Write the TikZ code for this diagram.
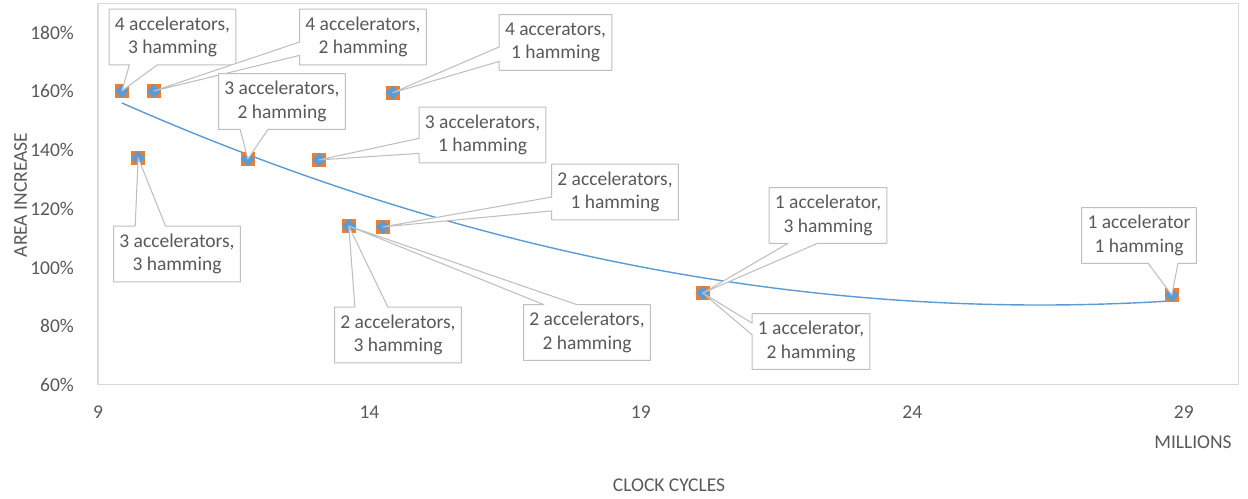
\documentclass[tikz,border=0pt]{standalone}
\usepackage{fontspec}
\setmainfont{Carlito}
\usetikzlibrary{calc}

\definecolor{txtgray}{HTML}{595959}
\definecolor{framegray}{HTML}{D9D9D9}
\definecolor{linegray}{HTML}{BFBFBF}
\definecolor{markorange}{HTML}{ED7D31}
\definecolor{markblue}{HTML}{5B9BD5}

\pgfdeclarelayer{labels}
\pgfsetlayers{main,labels}

% callout outline, tail leaving the box on one side (box, target, f1, f2)
\newcommand{\tailbottom}[4]{\draw[callout] (#1.south west) -- ($(#1.south west)!#3!(#1.south east)$) -- (#2.center) -- ($(#1.south west)!#4!(#1.south east)$) -- (#1.south east) -- (#1.north east) -- (#1.north west) -- cycle;}
\newcommand{\tailtop}[4]{\draw[callout] (#1.north west) -- ($(#1.north west)!#3!(#1.north east)$) -- (#2.center) -- ($(#1.north west)!#4!(#1.north east)$) -- (#1.north east) -- (#1.south east) -- (#1.south west) -- cycle;}
\newcommand{\tailleft}[4]{\draw[callout] (#1.north west) -- ($(#1.north west)!#3!(#1.south west)$) -- (#2.center) -- ($(#1.north west)!#4!(#1.south west)$) -- (#1.south west) -- (#1.south east) -- (#1.north east) -- cycle;}

\begin{document}
\begin{tikzpicture}[x=0.02cm,y=-0.02cm,
  lbl/.style={text=txtgray,font=\fontsize{11.1}{13.3}\selectfont},
  callbox/.style={lbl,align=center,minimum height=1.1cm,inner xsep=3.1pt,inner ysep=0pt},
  callout/.style={draw=linegray,fill=white,line width=0.6pt,line join=round},
  pt/.style={rectangle,minimum size=0.28cm,inner sep=0pt,fill=markorange,
    path picture={\fill[markblue] (path picture bounding box.north) -- (path picture bounding box.east)
      -- (path picture bounding box.south) -- (path picture bounding box.west) -- cycle;}}]
\useasboundingbox (0,0) rectangle (1248,498);

% plot area, X in millions of cycles, Y in percent
\begin{scope}[shift={(-7.814cm,-11.226cm)},x=1.086cm,y=0.05876cm]
\draw[framegray,line width=0.6pt] (9,60) rectangle (30,190);
\foreach \v in {60,80,...,180} \node[lbl,anchor=east] (yt\v) at (8.67,\v) {\v\%};
\foreach \v in {9,14,...,29} \node[lbl] (xt\v) at (\v,50.8) {\v};
% poly trend line
\draw[markblue,line width=0.8pt] plot[domain=9.44:28.78,samples=80] (\x,{254.2-12.672*\x+0.2404*\x*\x});
\node[pt] (p43) at (9.44,160.07) {};
\node[pt] (p42) at (10.03,160.07) {};
\node[pt] (p41) at (14.43,159.5) {};
\node[pt] (p33) at (9.74,137.3) {};
\node[pt] (p32) at (11.76,136.9) {};
\node[pt] (p31) at (13.07,136.6) {};
\node[pt] (p23) at (13.62,114.1) {};
\node[pt] (p21) at (14.25,113.8) {};
\node[pt] (p13) at (20.14,91.3) {};
\node[pt] (p11) at (28.78,90.6) {};
\end{scope}

% axis titles
\node[lbl,rotate=90] (ytitle) at (20.5,195) {AREA INCREASE};
\node[lbl] (xunit) at (1193,442) {MILLIONS};
\node[lbl] (xtitle) at (669,485) {CLOCK CYCLES};

% data labels
\begin{pgfonlayer}{labels}
\node[callbox] (c43) at (172.5,37) {4 accelerators,\\3 hamming};
\node[callbox] (c42) at (363,37) {4 accelerators,\\2 hamming};
\node[callbox] (c41) at (555.5,42.5) {4 accerators,\\1 hamming};
\node[callbox] (c32) at (282,101.5) {3 accelerators,\\2 hamming};
\node[callbox] (c31) at (482.5,135) {3 accelerators,\\1 hamming};
\node[callbox] (c21) at (615,192) {2 accelerators,\\1 hamming};
\node[callbox] (c33) at (177,254) {3 accelerators,\\3 hamming};
\node[callbox] (c23) at (398,335) {2 accelerators,\\3 hamming};
\node[callbox] (c22) at (587,332.5) {2 accelerators,\\2 hamming};
\node[callbox] (c13) at (828,215.5) {1 accelerator,\\3 hamming};
\node[callbox] (c12) at (811,341.5) {1 accelerator,\\2 hamming};
\node[callbox] (c11) at (1139,235.5) {1 accelerator\\1 hamming};
\end{pgfonlayer}
\tailbottom{c43}{p43}{0.16}{0.38}
\tailleft{c42}{p42}{0.59}{0.83}
\tailleft{c41}{p41}{0.58}{0.84}
\tailbottom{c32}{p32}{0.17}{0.39}
\tailleft{c31}{p31}{0.56}{0.83}
\tailleft{c21}{p21}{0.59}{0.84}
\tailtop{c33}{p33}{0.17}{0.41}
\tailtop{c23}{p23}{0.16}{0.42}
\tailtop{c22}{p23}{0.16}{0.42}
\tailbottom{c13}{p13}{0.16}{0.41}
\tailleft{c12}{p13}{0.17}{0.38}
\tailbottom{c11}{p11}{0.58}{0.84}
\end{tikzpicture}
\end{document}
